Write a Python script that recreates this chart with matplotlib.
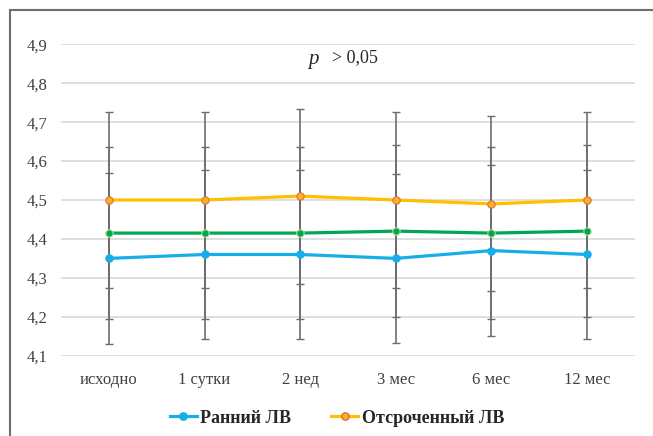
import matplotlib.pyplot as plt
from matplotlib.lines import Line2D

# data
categories = ["исходно", "1 сутки", "2 нед", "3 мес", "6 мес", "12 мес"]
early_lv = [4.35, 4.36, 4.36, 4.35, 4.37, 4.36]
early_err = [0.22, 0.218, 0.218, 0.218, 0.219, 0.218]
delayed_lv = [4.50, 4.50, 4.51, 4.50, 4.49, 4.50]
delayed_err = [0.225, 0.225, 0.225, 0.225, 0.225, 0.225]
overall = [4.415, 4.415, 4.415, 4.42, 4.415, 4.42]
overall_err = [0.221, 0.221, 0.221, 0.221, 0.221, 0.221]
y_ticks = [4.1, 4.2, 4.3, 4.4, 4.5, 4.6, 4.7, 4.8, 4.9]

plt.rcParams['font.family'] = ['Liberation Serif', 'DejaVu Serif']

fig = plt.figure(figsize=(6.53, 4.36), dpi=100)
ax = fig.add_axes([61 / 653, 1 - 355.7 / 436, 574 / 653, 311.4 / 436])

x = list(range(len(categories)))
err_color = "#6e6e6e"

series = [
    (overall, overall_err, "#00a651", "#00a651", "#b5d99a"),
    (early_lv, early_err, "#16aee8", "#16aee8", "#16aee8"),
    (delayed_lv, delayed_err, "#ffc000", "#f7b21e", "#d9704a"),
]

for vals, errs, lc, mfc, mec in series:
    ax.errorbar(x, vals, yerr=errs, fmt="none", ecolor=err_color,
                elinewidth=1.2, capsize=2.6, capthick=1.0, zorder=2)

for vals, errs, lc, mfc, mec in series:
    ax.plot(x, vals, color=lc, linewidth=2.3, marker="o", markersize=5.3,
            markerfacecolor=mfc, markeredgecolor=mec, markeredgewidth=0.8,
            zorder=3)

ax.set_xlim(-0.5, len(categories) - 0.5)
ax.set_ylim(4.1, 4.9)
ax.set_yticks(y_ticks)
ax.set_yticklabels([f"{v:.1f}".replace(".", ",") for v in y_ticks])
ax.set_xticks(x)
ax.set_xticklabels(categories)
ax.tick_params(axis="both", length=0, labelsize=12, colors="#404040")
ax.tick_params(axis="x", pad=12)
ax.tick_params(axis="y", pad=10)
ax.grid(axis="y", color="#d9d9d9", linewidth=1.2)
ax.set_axisbelow(True)
for s in ax.spines.values():
    s.set_visible(False)

ax.text(2.14, 4.86, "p", fontsize=15, fontstyle="italic", ha="center",
        va="center", color="#262626")
ax.text(2.57, 4.865, "> 0,05", fontsize=13, ha="center", va="center",
        color="#262626")

# outer frame (left and top only visible)
fig.add_artist(Line2D([10 / 653, 10 / 653], [0, 1 - 10 / 436],
                      color="#6e6e6e", linewidth=1.5))
fig.add_artist(Line2D([10 / 653, 1], [1 - 10 / 436, 1 - 10 / 436],
                      color="#6e6e6e", linewidth=1.5))

handles = [
    Line2D([], [], color="#16aee8", linewidth=2.3, marker="o", markersize=5.3,
           markerfacecolor="#16aee8", markeredgecolor="#16aee8"),
    Line2D([], [], color="#ffc000", linewidth=2.3, marker="o", markersize=5.3,
           markerfacecolor="#f7b21e", markeredgecolor="#d9704a"),
]
leg = fig.legend(handles, ["Ранний ЛВ", "Отсроченный ЛВ"], loc="center",
                 bbox_to_anchor=(337 / 653, 1 - 418 / 436), ncol=2,
                 frameon=False, handlelength=1.5, handletextpad=0.2,
                 columnspacing=2.2, prop={"weight": "bold", "size": 13})
for t in leg.get_texts():
    t.set_color("#262626")

fig.savefig("out.png", dpi=100)
